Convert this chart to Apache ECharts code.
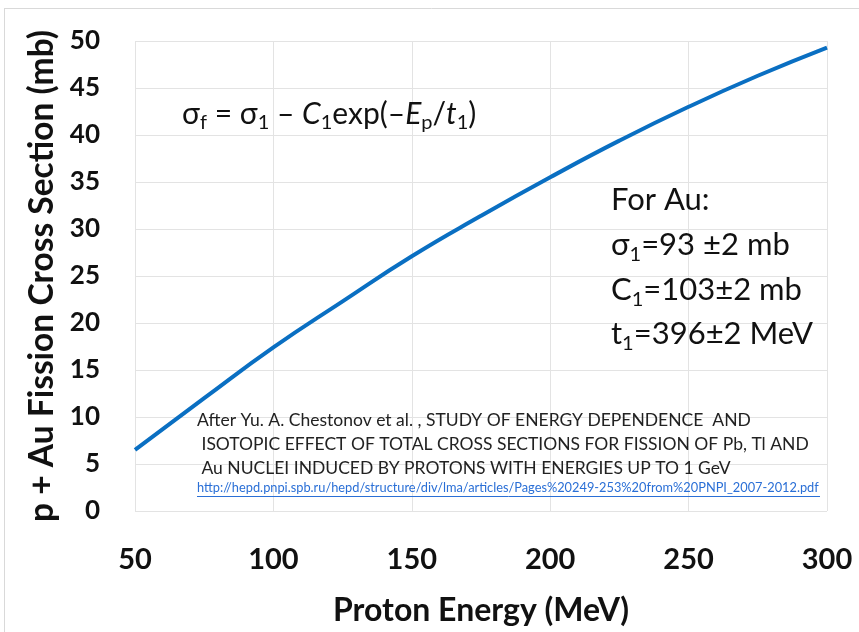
<!DOCTYPE html>
<html>
<head>
<meta charset="utf-8">
<script src="https://cdn.jsdelivr.net/npm/echarts@6/dist/echarts.min.js"></script>
<style>
html,body{margin:0;padding:0;background:#fff;}
#c{width:859px;height:632px;}
</style>
</head>
<body>
<div id="c"></div>
<script>
// Data
var energy = [50, 75, 100, 125, 150, 175, 200, 225, 250, 275, 300];
var sigmaF = [6.5, 12.0, 17.4, 22.3, 27.1, 31.4, 35.5, 39.4, 43.0, 46.3, 49.3];
var xTicks = [50, 100, 150, 200, 250, 300];
var yTicks = [0, 5, 10, 15, 20, 25, 30, 35, 40, 45, 50];
var xTitle = 'Proton Energy (MeV)';
var yTitle = 'p + Au Fission Cross Section (mb)';
var citeLines = [
  'After Yu. A. Chestonov et al. , STUDY OF ENERGY DEPENDENCE  AND',
  ' ISOTOPIC EFFECT OF TOTAL CROSS SECTIONS FOR FISSION OF Pb, Tl AND',
  ' Au NUCLEI INDUCED BY PROTONS WITH ENERGIES UP TO 1 GeV'
];
var citeUrl = 'http://hepd.pnpi.spb.ru/hepd/structure/div/lma/articles/Pages%20249-253%20from%20PNPI_2007-2012.pdf';

var FONT = 'Lato, "Noto Sans", "DejaVu Sans", sans-serif';
var chart = echarts.init(document.getElementById('c'), null, {renderer: 'canvas'});

var formulaRich = {
  n: {fontSize: 30, fontFamily: FONT, color: '#111', lineHeight: 38},
  i: {fontSize: 30, fontFamily: FONT, fontStyle: 'italic', color: '#111', lineHeight: 38},
  s: {fontSize: 20, fontFamily: FONT, color: '#111', lineHeight: 19, verticalAlign: 'bottom'}
};
var auRich = {
  n: {fontSize: 31, fontFamily: FONT, color: '#111', lineHeight: 40},
  s: {fontSize: 20, fontFamily: FONT, color: '#111', lineHeight: 18, verticalAlign: 'bottom'}
};

var option = {
  backgroundColor: '#ffffff',
  animation: false,
  grid: {left: 135, right: 32, top: 41, bottom: 120, containLabel: false},
  xAxis: {
    type: 'value', min: 50, max: 300, interval: 50,
    name: xTitle, nameLocation: 'middle', nameGap: 84,
    nameTextStyle: {fontSize: 32, fontWeight: 'bold', fontFamily: FONT, color: '#111'},
    axisLine: {show: false}, axisTick: {show: false},
    axisLabel: {fontSize: 29, fontWeight: 'bold', fontFamily: FONT, color: '#111', margin: 34,
      formatter: function (v) { return xTicks.indexOf(v) >= 0 ? String(v) : ''; }},
    splitLine: {show: true, lineStyle: {color: '#e3e3e3', width: 1}}
  },
  yAxis: {
    type: 'value', min: 0, max: 50, interval: 5,
    name: yTitle, nameLocation: 'middle', nameGap: 75,
    nameTextStyle: {fontSize: 33.5, fontWeight: 'bold', fontFamily: FONT, color: '#111'},
    axisLine: {show: false}, axisTick: {show: false},
    axisLabel: {fontSize: 26, fontWeight: 'bold', fontFamily: FONT, color: '#111', margin: 35,
      formatter: function (v) { return yTicks.indexOf(v) >= 0 ? String(v) : ''; }},
    splitLine: {show: true, lineStyle: {color: '#e3e3e3', width: 1}}
  },
  series: [{
    type: 'line',
    data: energy.map(function (e, k) { return [e, sigmaF[k]]; }),
    smooth: true,
    showSymbol: false,
    lineStyle: {color: '#0a6fc2', width: 4},
    z: 3
  }],
  graphic: [
    {type: 'line', shape: {x1: 4, y1: 8.5, x2: 859, y2: 8.5}, style: {stroke: '#d9d9d9', lineWidth: 1}, silent: true},
    {type: 'line', shape: {x1: 4.5, y1: 8, x2: 4.5, y2: 632}, style: {stroke: '#d9d9d9', lineWidth: 1}, silent: true},
    {type: 'text', left: 182, top: 99, z: 10,
      style: {text: '{n|σ}{s|f}{n| = σ}{s|1}{n| – }{i|C}{s|1}{n|exp(–}{i|E}{s|p}{n|/}{i|t}{s|1}{n|)}', rich: formulaRich, fill: '#111'}},
    {type: 'text', left: 611, top: 184, z: 10,
      style: {text: '{n|For Au:}', rich: auRich, fill: '#111'}},
    {type: 'text', left: 611, top: 229, z: 10,
      style: {text: '{n|σ}{s|1}{n|=93 ±2 mb}', rich: auRich, fill: '#111'}},
    {type: 'text', left: 611, top: 274, z: 10,
      style: {text: '{n|C}{s|1}{n|=103±2 mb}', rich: auRich, fill: '#111'}},
    {type: 'text', left: 611, top: 318, z: 10,
      style: {text: '{n|t}{s|1}{n|=396±2 MeV}', rich: auRich, fill: '#111'}},
    {type: 'text', left: 197, top: 411, z: 10,
      style: {text: citeLines[0], font: '17.5px ' + FONT, fill: '#222'}},
    {type: 'text', left: 197, top: 435, z: 10,
      style: {text: citeLines[1], font: '17.5px ' + FONT, fill: '#222'}},
    {type: 'text', left: 197, top: 459, z: 10,
      style: {text: citeLines[2], font: '17.5px ' + FONT, fill: '#222'}},
    {type: 'text', left: 197, top: 481, z: 10,
      style: {text: citeUrl, font: '12.8px ' + FONT, fill: '#2a6fd6'}},
    {type: 'line', shape: {x1: 197, y1: 496.5, x2: 820, y2: 496.5}, style: {stroke: '#2a6fd6', lineWidth: 1}, silent: true, z: 10}
  ]
};
chart.setOption(option);
</script>
</body>
</html>
